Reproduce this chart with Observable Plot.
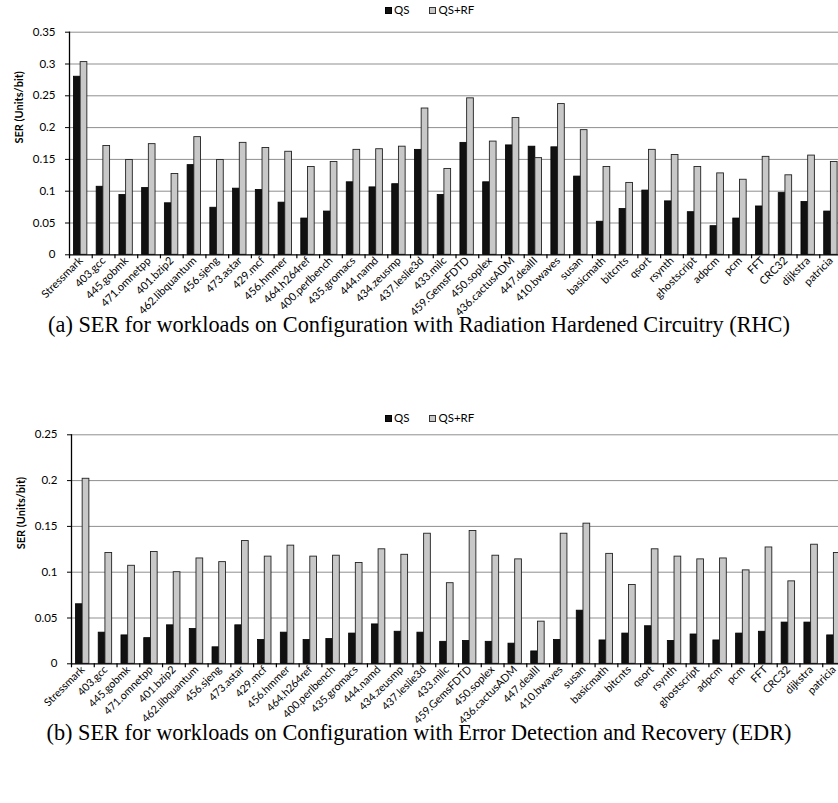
<!DOCTYPE html>
<html><head><meta charset="utf-8">
<script src="https://cdn.jsdelivr.net/npm/d3@7"></script>
<script src="https://cdn.jsdelivr.net/npm/@observablehq/plot@0.6"></script>
<style>
html,body{margin:0;padding:0;background:#fff;}
body{width:838px;height:803px;overflow:hidden;position:relative;font-family:Lato,"Open Sans",sans-serif;}
.blk{position:absolute;left:0;}
.legend{height:20px;line-height:20px;font-size:11.5px;white-space:nowrap;}
.legend span.sw{display:inline-block;width:7px;height:7px;vertical-align:middle;margin-right:2px;position:relative;top:-1px;box-sizing:border-box;}
.caption{width:838px;text-align:center;font-family:"Liberation Serif","Times New Roman",serif;font-size:22.3px;line-height:30px;height:30px;white-space:nowrap;}
</style>
</head><body>
<div id="legA" class="blk legend" style="top:0;left:385px"></div>
<div id="chartA" class="blk" style="top:20px"></div>
<div class="blk caption" style="top:310px">(a) SER for workloads on Configuration with Radiation Hardened Circuitry (RHC)</div>
<div id="legB" class="blk legend" style="top:408px;left:385px"></div>
<div id="chartB" class="blk" style="top:428px"></div>
<div class="blk caption" style="top:718px">(b) SER for workloads on Configuration with Error Detection and Recovery (EDR)</div>
<script>
const categories = ["Stressmark","403.gcc","445.gobmk","471.omnetpp","401.bzip2","462.libquantum","456.sjeng","473.astar","429.mcf","456.hmmer","464.h264ref","400.perlbench","435.gromacs","444.namd","434.zeusmp","437.leslie3d","433.milc","459.GemsFDTD","450.soplex","436.cactusADM","447.dealII","410.bwaves","susan","basicmath","bitcnts","qsort","rsynth","ghostscript","adpcm","pcm","FFT","CRC32","dijkstra","patricia"];
const seriesNames = ["QS","QS+RF"];
// (a) RHC
const rhcQS = [0.280,0.107,0.094,0.105,0.081,0.141,0.074,0.104,0.102,0.082,0.057,0.068,0.114,0.106,0.111,0.165,0.094,0.176,0.114,0.172,0.170,0.169,0.123,0.052,0.072,0.101,0.084,0.067,0.045,0.057,0.076,0.097,0.083,0.068];
const rhcRF = [0.303,0.171,0.149,0.174,0.127,0.185,0.149,0.176,0.168,0.162,0.138,0.146,0.165,0.166,0.170,0.230,0.135,0.246,0.178,0.215,0.152,0.237,0.196,0.138,0.113,0.165,0.157,0.138,0.128,0.118,0.154,0.125,0.156,0.146];
// (b) EDR
const edrQS = [0.065,0.034,0.031,0.028,0.042,0.038,0.018,0.042,0.026,0.034,0.026,0.027,0.033,0.043,0.035,0.034,0.024,0.025,0.024,0.022,0.0135,0.026,0.058,0.0255,0.033,0.041,0.025,0.032,0.0255,0.033,0.035,0.045,0.045,0.031];
const edrRF = [0.202,0.121,0.107,0.122,0.100,0.115,0.111,0.134,0.117,0.129,0.117,0.118,0.110,0.125,0.119,0.142,0.088,0.145,0.118,0.114,0.046,0.142,0.153,0.120,0.086,0.125,0.117,0.114,0.115,0.102,0.127,0.090,0.130,0.121];
const yTicksA = [0,0.05,0.1,0.15,0.2,0.25,0.3,0.35];
const yTicksB = [0,0.05,0.1,0.15,0.2,0.25];
const yTitle = "SER (Units/bit)";

const fills = {"QS":"#111111","QS+RF":"#c8c8c8"};

function legend(el){
  el.innerHTML = seriesNames.map((s,i)=>`<span style="margin-left:${i?20:0}px"><span class="sw" style="background:${fills[s]};border:1px solid ${i? '#333':'#000'}"></span>${s}</span>`).join("");
}
legend(document.getElementById("legA"));
legend(document.getElementById("legB"));

function chart({qs, rf, ticks, width, height, marginLeft, marginTop, marginBottom, labelSize, labelPad}){
  const rows = categories.flatMap((c,i)=>[{cat:c,series:"QS",v:qs[i]},{cat:c,series:"QS+RF",v:rf[i]}]);
  const step = (width - marginLeft) / categories.length;
  const yMax = ticks[ticks.length-1];
  const plotH = height - marginTop - marginBottom;
  const tickLen = 4 * yMax / plotH;
  const svg = Plot.plot({
    width, height, marginLeft, marginRight:0, marginTop, marginBottom,
    style:{fontFamily:"Lato, 'Open Sans', sans-serif", fontSize:"11px", color:"#000", background:"#fff", overflow:"visible", maxWidth:"none"},
    x:{type:"band", domain:categories, padding:0, round:false},
    y:{domain:[0,yMax]},
    marks:[
      Plot.ruleY(ticks.slice(1), {stroke:"#8f8f8f", strokeWidth:1}),
      Plot.barY(rows.filter(d=>d.series==="QS"), {x:"cat", y:"v", fill:fills["QS"], stroke:"#000", strokeWidth:0.8, insetLeft:step*0.195, insetRight:step*0.51}),
      Plot.barY(rows.filter(d=>d.series==="QS+RF"), {x:"cat", y:"v", fill:fills["QS+RF"], stroke:"#222", strokeWidth:0.9, insetLeft:step*0.49, insetRight:step*0.215}),
      Plot.ruleY([0], {stroke:"#000", strokeWidth:1.3}),
      Plot.frame({anchor:"left", stroke:"#000", strokeWidth:1.3}),
      Plot.ruleX(categories, {x:d=>d, y1:0, y2:-tickLen, dx:-step/2, stroke:"#000", strokeWidth:1.2}),
      Plot.axisY({ticks, tickSize:4, tickPadding:10, tickFormat:d=>d===0?"0":String(d), fontSize:11.5, label:null}),
      Plot.axisX({tickSize:0, tickRotate:-45, tickPadding:labelPad, fontSize:labelSize, label:null}),
      Plot.text([yTitle], {frameAnchor:"left", rotate:-90, dx:-50, fontWeight:"bold", fontSize:11})
    ]
  });
  svg.style.maxWidth = "none";
  return svg;
}

document.getElementById("chartA").append(chart({qs:rhcQS, rf:rhcRF, ticks:yTicksA, width:842, height:290, marginLeft:69, marginTop:11.7, marginBottom:55.7, labelSize:11, labelPad:4}));
document.getElementById("chartB").append(chart({qs:edrQS, rf:edrRF, ticks:yTicksB, width:845, height:280, marginLeft:71, marginTop:6.3, marginBottom:44.7, labelSize:10.8, labelPad:4}));
</script>
</body></html>
